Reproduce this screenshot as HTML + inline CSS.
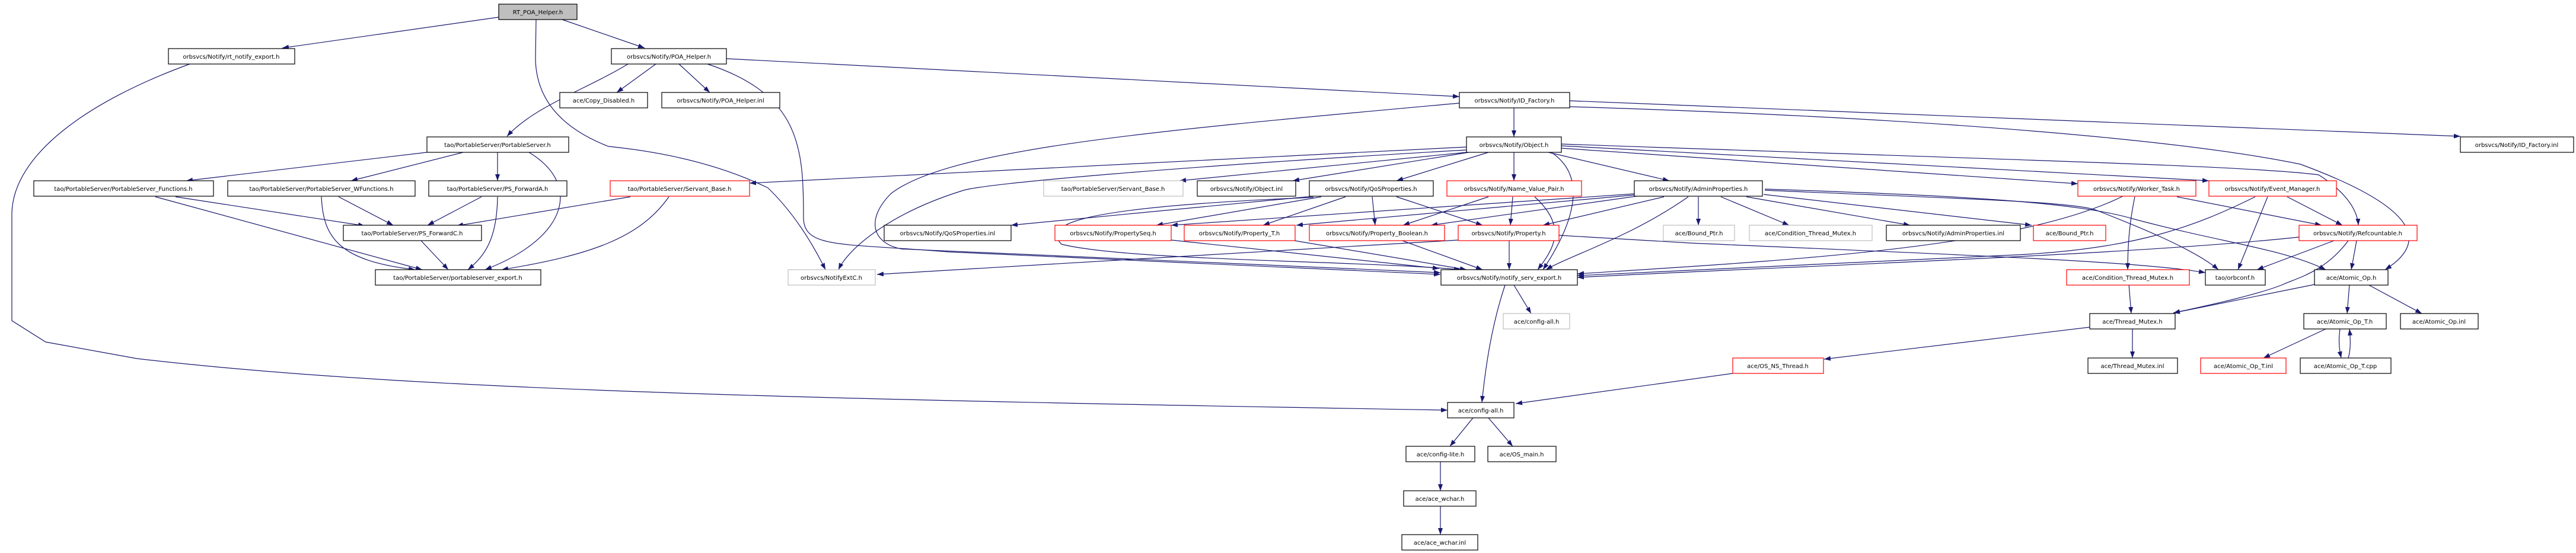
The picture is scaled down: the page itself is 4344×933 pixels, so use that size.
<!DOCTYPE html>
<html><head><meta charset="utf-8"><style>
html,body{margin:0;padding:0;background:#fff;}
svg{display:block;}
text{font-family:"DejaVu Sans","Liberation Sans",sans-serif;font-size:10px;fill:#000;}
.e{fill:none;stroke:#191970;stroke-width:1.2;marker-end:url(#a);}
.b{fill:#fff;stroke:#000;stroke-width:1.2;}
.r{fill:#fff;stroke:#ff0000;stroke-width:1.2;}
.g{fill:#fff;stroke:#bfbfbf;stroke-width:1.2;}
</style></head><body>
<svg width="4344" height="933" viewBox="0 0 4344 933" xmlns="http://www.w3.org/2000/svg">
<defs><marker id="a" markerUnits="userSpaceOnUse" markerWidth="12" markerHeight="9" refX="11" refY="4" orient="auto"><path d="M0,0 L11,4 L0,8 z" fill="#191970"/></marker></defs>
<g>
<path class="e" d="M841 29 L476 81"/>
<path class="e" d="M948 33 L1087 81"/>
<path class="e" d="M904 33 L903 100 Q905 200 1026 247 Q1184 263 1295 317 Q1350 370 1392 455"/>
<path class="e" d="M1059 108 C990 150 900 180 855 230"/>
<path class="e" d="M1106 108 L1040 156"/>
<path class="e" d="M1145 108 L1197 156"/>
<path class="e" d="M1225 99 L2461 163"/>
<path class="e" d="M1193 108 C1350 160 1355 250 1355 367 C1355 420 1420 410 1600 425 L2429 463"/>
<path class="e" d="M720 257 L314 305"/>
<path class="e" d="M781 257 L592 305"/>
<path class="e" d="M839 257 L839 305"/>
<path class="e" d="M892 257 C980 310 960 400 818 455"/>
<path class="e" d="M296 332 L615 381"/>
<path class="e" d="M262 332 L712 455"/>
<path class="e" d="M571 332 L663 380"/>
<path class="e" d="M542 332 C545 400 570 440 700 455"/>
<path class="e" d="M812 332 L721 380"/>
<path class="e" d="M839 332 C838 400 820 430 789 455"/>
<path class="e" d="M1063 332 L770 381"/>
<path class="e" d="M1128 332 C1080 400 1000 430 846 455"/>
<path class="e" d="M710 406 L756 455"/>
<path class="e" d="M2473 248 L1264 309"/>
<path class="e" d="M2553 182 L2553 231"/>
<path class="e" d="M2647 170 L4149 230"/>
<path class="e" d="M2647 180 C3300 200 3700 240 3879 277 C4050 340 4110 400 4022 455"/>
<path class="e" d="M2461 174 C1955 220 1600 250 1502 327 C1460 370 1470 410 1520 420 L2429 460"/>
<path class="e" d="M2473 253 C2000 280 1650 310 1622 322 C1500 360 1430 420 1414 455"/>
<path class="e" d="M2473 257 L1989 305"/>
<path class="e" d="M2477 257 L2180 305"/>
<path class="e" d="M2510 257 L2355 305"/>
<path class="e" d="M2553 257 L2553 305"/>
<path class="e" d="M2611 257 L2815 305"/>
<path class="e" d="M2616 257 C2681 300 2650 383 2602 455"/>
<path class="e" d="M2633 250 L3504 310"/>
<path class="e" d="M2633 246 L3725 305"/>
<path class="e" d="M2633 243 C3400 270 3800 280 3910 295 C3950 320 3975 350 3977 380"/>
<path class="e" d="M2215 331 L1705 380"/>
<path class="e" d="M2228 332 L1950 380"/>
<path class="e" d="M2269 332 L2130 380"/>
<path class="e" d="M2314 332 L2319 380"/>
<path class="e" d="M2355 332 L2500 380"/>
<path class="e" d="M2215 333 C1800 350 1760 380 1790 412 C1900 440 2300 440 2463 455"/>
<path class="e" d="M2510 332 L2366 380"/>
<path class="e" d="M2551 332 L2547 380"/>
<path class="e" d="M2588 332 C2644 383 2620 420 2593 455"/>
<path class="e" d="M2756 327 L1975 380"/>
<path class="e" d="M2756 329 L2186 380"/>
<path class="e" d="M2760 331 L2413 380"/>
<path class="e" d="M2806 332 L2602 380"/>
<path class="e" d="M2847 332 C2750 400 2650 430 2607 455"/>
<path class="e" d="M2864 332 L2864 380"/>
<path class="e" d="M2902 332 L3017 380"/>
<path class="e" d="M2945 332 L3221 380"/>
<path class="e" d="M2974 328 L3426 380"/>
<path class="e" d="M2976 321 C3300 335 3500 340 3536 355 C3600 380 3700 420 3741 455"/>
<path class="e" d="M2976 319 C3300 330 3500 340 3600 370 C3750 410 3850 420 3922 455"/>
<path class="e" d="M2629 397 L2850 410 C3300 430 3600 440 3719 460"/>
<path class="e" d="M2459 405 L1479 463"/>
<path class="e" d="M1975 405 L2427 453"/>
<path class="e" d="M2177 405 L2473 455"/>
<path class="e" d="M2362 405 L2500 455"/>
<path class="e" d="M2545 406 L2545 455"/>
<path class="e" d="M3600 332 C3590 380 3588 420 3588 455"/>
<path class="e" d="M3671 332 L3915 380"/>
<path class="e" d="M3580 331 C3400 420 3000 440 2660 462"/>
<path class="e" d="M3857 332 L3950 380"/>
<path class="e" d="M3824 332 L3774 455"/>
<path class="e" d="M3803 332 C3700 383 3600 420 3400 430 L2660 465"/>
<path class="e" d="M3936 406 L3806 455"/>
<path class="e" d="M3974 406 L3965 455"/>
<path class="e" d="M3960 406 C3920 460 3870 470 3850 480 C3800 500 3700 520 3665 528"/>
<path class="e" d="M3877 400 C3600 430 3000 450 2660 468"/>
<path class="e" d="M3903 480 L3665 528"/>
<path class="e" d="M3962 480 L3958 529"/>
<path class="e" d="M3993 480 L4084 529"/>
<path class="e" d="M3590 480 L3594 529"/>
<path class="e" d="M3524 552 L3076 606"/>
<path class="e" d="M3596 555 L3596 604"/>
<path class="e" d="M3922 555 L3817 604"/>
<path class="e" d="M3946 555 C3943 575 3945 590 3948 604"/>
<path class="e" d="M3960 604 C3964 590 3964 575 3962 555"/>
<path class="e" d="M2922 630 L2556 681"/>
<path class="e" d="M2553 481 L2582 529"/>
<path class="e" d="M2538 481 C2515 550 2505 620 2499 679"/>
<path class="e" d="M2484 705 L2445 753"/>
<path class="e" d="M2510 705 L2551 753"/>
<path class="e" d="M2429 779 L2429 828"/>
<path class="e" d="M2429 854 L2429 902"/>
<path class="e" d="M320 108 C150 170 22 260 20 360 L20 541 L77 577 L231 605 C700 660 1400 674 2441 692"/>
</g>
<g>
<rect x="841" y="7" width="132" height="26" fill="#bfbfbf" stroke="#000" stroke-width="1.2"/><text x="907" y="24" text-anchor="middle">RT_POA_Helper.h</text>
<rect class="b" x="284" y="82" width="213" height="26"/><text x="390" y="99" text-anchor="middle">orbsvcs/Notify/rt_notify_export.h</text>
<rect class="b" x="1031" y="82" width="194" height="26"/><text x="1128" y="99" text-anchor="middle">orbsvcs/Notify/POA_Helper.h</text>
<rect class="b" x="944" y="156" width="148" height="26"/><text x="1018" y="173" text-anchor="middle">ace/Copy_Disabled.h</text>
<rect class="b" x="1116" y="156" width="199" height="26"/><text x="1215" y="173" text-anchor="middle">orbsvcs/Notify/POA_Helper.inl</text>
<rect class="b" x="2461" y="156" width="186" height="26"/><text x="2554" y="173" text-anchor="middle">orbsvcs/Notify/ID_Factory.h</text>
<rect class="b" x="720" y="231" width="239" height="26"/><text x="839" y="248" text-anchor="middle">tao/PortableServer/PortableServer.h</text>
<rect class="b" x="2473" y="231" width="160" height="26"/><text x="2553" y="248" text-anchor="middle">orbsvcs/Notify/Object.h</text>
<rect class="b" x="4149" y="231" width="191" height="26"/><text x="4244" y="248" text-anchor="middle">orbsvcs/Notify/ID_Factory.inl</text>

<rect class="b" x="57" y="305" width="303" height="26"/><text x="208" y="322" text-anchor="middle">tao/PortableServer/PortableServer_Functions.h</text>
<rect class="b" x="384" y="305" width="316" height="26"/><text x="542" y="322" text-anchor="middle">tao/PortableServer/PortableServer_WFunctions.h</text>
<rect class="b" x="723" y="305" width="233" height="26"/><text x="839" y="322" text-anchor="middle">tao/PortableServer/PS_ForwardA.h</text>
<rect class="r" x="1029" y="305" width="235" height="26"/><text x="1146" y="322" text-anchor="middle">tao/PortableServer/Servant_Base.h</text>
<rect class="g" x="1760" y="305" width="235" height="26"/><text x="1877" y="322" text-anchor="middle">tao/PortableServer/Servant_Base.h</text>
<rect class="b" x="2019" y="305" width="166" height="26"/><text x="2102" y="322" text-anchor="middle">orbsvcs/Notify/Object.inl</text>
<rect class="b" x="2208" y="305" width="209" height="26"/><text x="2312" y="322" text-anchor="middle">orbsvcs/Notify/QoSProperties.h</text>
<rect class="r" x="2440" y="305" width="227" height="26"/><text x="2553" y="322" text-anchor="middle">orbsvcs/Notify/Name_Value_Pair.h</text>
<rect class="b" x="2756" y="305" width="216" height="26"/><text x="2864" y="322" text-anchor="middle">orbsvcs/Notify/AdminProperties.h</text>
<rect class="r" x="3504" y="305" width="199" height="26"/><text x="3603" y="322" text-anchor="middle">orbsvcs/Notify/Worker_Task.h</text>
<rect class="r" x="3725" y="305" width="215" height="26"/><text x="3832" y="322" text-anchor="middle">orbsvcs/Notify/Event_Manager.h</text>

<rect class="b" x="579" y="380" width="233" height="26"/><text x="695" y="397" text-anchor="middle">tao/PortableServer/PS_ForwardC.h</text>
<rect class="b" x="1491" y="380" width="214" height="26"/><text x="1598" y="397" text-anchor="middle">orbsvcs/Notify/QoSProperties.inl</text>
<rect class="r" x="1779" y="380" width="196" height="26"/><text x="1877" y="397" text-anchor="middle">orbsvcs/Notify/PropertySeq.h</text>
<rect class="r" x="1997" y="380" width="187" height="26"/><text x="2090" y="397" text-anchor="middle">orbsvcs/Notify/Property_T.h</text>
<rect class="r" x="2208" y="380" width="228" height="26"/><text x="2322" y="397" text-anchor="middle">orbsvcs/Notify/Property_Boolean.h</text>
<rect class="r" x="2459" y="380" width="170" height="26"/><text x="2544" y="397" text-anchor="middle">orbsvcs/Notify/Property.h</text>
<rect class="g" x="2805" y="380" width="120" height="26"/><text x="2865" y="397" text-anchor="middle">ace/Bound_Ptr.h</text>
<rect class="g" x="2950" y="380" width="207" height="26"/><text x="3053" y="397" text-anchor="middle">ace/Condition_Thread_Mutex.h</text>
<rect class="b" x="3181" y="380" width="226" height="26"/><text x="3294" y="397" text-anchor="middle">orbsvcs/Notify/AdminProperties.inl</text>
<rect class="r" x="3429" y="380" width="122" height="26"/><text x="3490" y="397" text-anchor="middle">ace/Bound_Ptr.h</text>
<rect class="r" x="3877" y="380" width="199" height="26"/><text x="3976" y="397" text-anchor="middle">orbsvcs/Notify/Refcountable.h</text>

<rect class="b" x="633" y="455" width="279" height="26"/><text x="772" y="472" text-anchor="middle">tao/PortableServer/portableserver_export.h</text>
<rect class="g" x="1329" y="455" width="147" height="26"/><text x="1402" y="472" text-anchor="middle">orbsvcs/NotifyExtC.h</text>
<rect class="b" x="2430" y="455" width="230" height="26"/><text x="2545" y="472" text-anchor="middle">orbsvcs/Notify/notify_serv_export.h</text>
<rect class="r" x="3485" y="455" width="207" height="26"/><text x="3588" y="472" text-anchor="middle">ace/Condition_Thread_Mutex.h</text>
<rect class="b" x="3719" y="455" width="101" height="26"/><text x="3769" y="472" text-anchor="middle">tao/orbconf.h</text>
<rect class="b" x="3903" y="455" width="124" height="26"/><text x="3965" y="472" text-anchor="middle">ace/Atomic_Op.h</text>

<rect class="g" x="2535" y="529" width="112" height="26"/><text x="2591" y="546" text-anchor="middle">ace/config-all.h</text>
<rect class="b" x="3524" y="529" width="144" height="26"/><text x="3596" y="546" text-anchor="middle">ace/Thread_Mutex.h</text>
<rect class="b" x="3885" y="529" width="139" height="26"/><text x="3954" y="546" text-anchor="middle">ace/Atomic_Op_T.h</text>
<rect class="b" x="4048" y="529" width="131" height="26"/><text x="4113" y="546" text-anchor="middle">ace/Atomic_Op.inl</text>

<rect class="r" x="2922" y="604" width="153" height="26"/><text x="2998" y="621" text-anchor="middle">ace/OS_NS_Thread.h</text>
<rect class="b" x="3521" y="604" width="151" height="26"/><text x="3596" y="621" text-anchor="middle">ace/Thread_Mutex.inl</text>
<rect class="r" x="3711" y="604" width="144" height="26"/><text x="3783" y="621" text-anchor="middle">ace/Atomic_Op_T.inl</text>
<rect class="b" x="3879" y="604" width="153" height="26"/><text x="3955" y="621" text-anchor="middle">ace/Atomic_Op_T.cpp</text>

<rect class="b" x="2441" y="679" width="112" height="26"/><text x="2497" y="696" text-anchor="middle">ace/config-all.h</text>
<rect class="b" x="2371" y="753" width="116" height="26"/><text x="2429" y="770" text-anchor="middle">ace/config-lite.h</text>
<rect class="b" x="2509" y="753" width="115" height="26"/><text x="2566" y="770" text-anchor="middle">ace/OS_main.h</text>
<rect class="b" x="2367" y="828" width="122" height="26"/><text x="2428" y="845" text-anchor="middle">ace/ace_wchar.h</text>
<rect class="b" x="2364" y="902" width="128" height="26"/><text x="2428" y="919" text-anchor="middle">ace/ace_wchar.inl</text>
</g>
</svg>
</body></html>
